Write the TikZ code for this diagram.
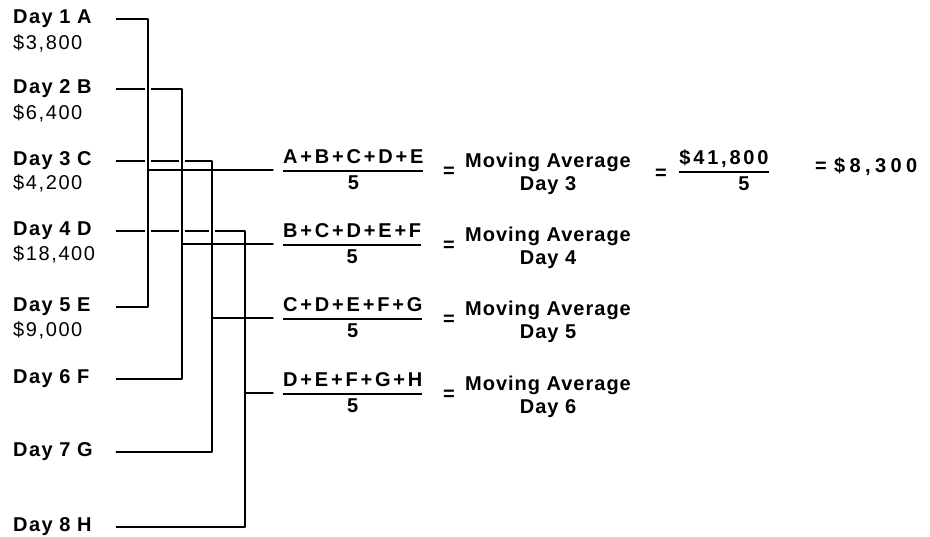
\documentclass[tikz,border=0pt]{standalone}
\usepackage{fontspec}
\setmainfont{Liberation Sans}
\usetikzlibrary{calc}
\setlength{\arrayrulewidth}{1.3pt}
\newcommand{\fracbox}[2]{\begin{tabular}{@{}c@{}}#1\\\hline\rule{0pt}{18pt}#2\end{tabular}}
\tikzset{
	daylbl/.style={anchor=west,inner sep=0pt,text width=103pt,font=\fontsize{20}{23}\selectfont\bfseries\addfontfeature{LetterSpace=7}},
	amt/.style={anchor=west,inner sep=0pt,font=\fontsize{20}{23}\selectfont\addfontfeature{LetterSpace=8}},
	frc/.style={inner sep=0pt,font=\fontsize{20}{23}\selectfont\bfseries\addfontfeature{LetterSpace=14}},
	mavg/.style={inner sep=0pt,align=center,font=\fontsize{20}{23}\selectfont\bfseries\addfontfeature{LetterSpace=5}},
	eqs/.style={inner sep=0pt,font=\fontsize{20}{23}\selectfont\bfseries},
	resv/.style={anchor=west,inner sep=0pt,font=\fontsize{20}{23}\selectfont\bfseries\addfontfeature{LetterSpace=22}},
	brk/.style={line width=1.4pt,preaction={draw=white,line width=6pt}},
	outl/.style={line width=1.4pt,shorten >=10pt}
}
\begin{document}
\begin{tikzpicture}[x=1pt,y=-1pt, line join=round, line cap=round]
	\useasboundingbox (0,0) rectangle (930,537);
	\def\xA{148} \def\xB{182} \def\xC{212} \def\xD{245} % verticals
	% days
	\node[daylbl] (d1) at (13,19) {Day\,\,1\,\,A};
	\node[amt] (m1) at (13,43) {\$3,800};
	\node[daylbl] (d2) at (13,89) {Day\,\,2\,\,B};
	\node[amt] (m2) at (13,113) {\$6,400};
	\node[daylbl] (d3) at (13,161) {Day\,\,3\,\,C};
	\node[amt] (m3) at (13,183) {\$4,200};
	\node[daylbl] (d4) at (13,231) {Day\,\,4\,\,D};
	\node[amt] (m4) at (13,254) {\$18,400};
	\node[daylbl] (d5) at (13,307) {Day\,\,5\,\,E};
	\node[amt] (m5) at (13,330) {\$9,000};
	\node[daylbl] (d6) at (13,379) {Day\,\,6\,\,F};
	\node[daylbl] (d7) at (13,452) {Day\,\,7\,\,G};
	\node[daylbl] (d8) at (13,527) {Day\,\,8\,\,H};
	\coordinate (j3) at (\xA,170);
	\coordinate (j4) at (\xB,244);
	\coordinate (j5) at (\xC,318);
	\coordinate (j6) at (\xD,393);
	\draw[brk] (d4.east) -| (j6) |- (d8.east);
	\draw[brk] (d3.east) -| (j5) |- (d7.east);
	\draw[brk] (d2.east) -| (j4) |- (d6.east);
	\draw[brk] (d1.east) -| (j3) |- (d5.east);
	% averages
	\node[frc,anchor=west] (f3) at (283,172) {\fracbox{A+B+C+D+E}{5}};
	\node[frc,anchor=west] (f4) at (283,246) {\fracbox{B+C+D+E+F}{5}};
	\node[frc,anchor=west] (f5) at (283,320) {\fracbox{C+D+E+F+G}{5}};
	\node[frc,anchor=west] (f6) at (283,395) {\fracbox{D+E+F+G+H}{5}};
	\draw[outl] (j3) -- (j3 -| f3.west);
	\draw[outl] (j4) -- (j4 -| f4.west);
	\draw[outl] (j5) -- (j5 -| f5.west);
	\draw[outl] (j6) -- (j6 -| f6.west);
	\node[eqs] (e3) at (449,172) {=};
	\node[eqs] (e4) at (449,246) {=};
	\node[eqs] (e5) at (449,320) {=};
	\node[eqs] (e6) at (449,395) {=};
	\node[mavg] (a3) at (548,173.5) {Moving Average\\Day 3};
	\node[mavg] (a4) at (548,247.5) {Moving Average\\Day 4};
	\node[mavg] (a5) at (548,321.5) {Moving Average\\Day 5};
	\node[mavg] (a6) at (548,396.5) {Moving Average\\Day 6};
	\node[eqs] (q3) at (661,174) {=};
	\node[frc] (s3) at (724,173) {\fracbox{\$41,800}{\hspace*{40pt}5}};
	\node[eqs] (q4) at (821,167) {=};
	\node[resv] (r3) at (834,167) {\$8,300};
\end{tikzpicture}
\end{document}
